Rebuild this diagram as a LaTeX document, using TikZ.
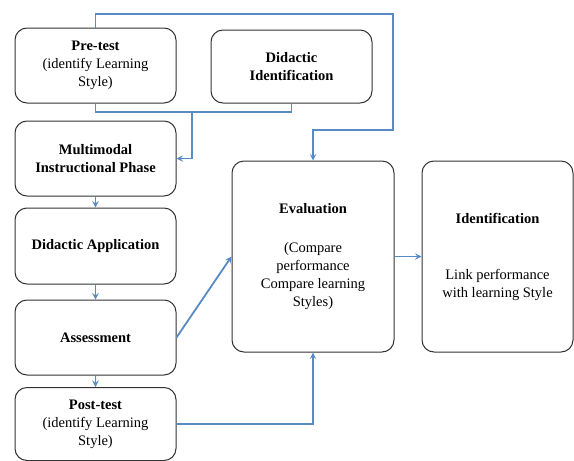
\documentclass[tikz,border=0pt]{standalone}
\usepackage{fontspec}
\setmainfont{Liberation Serif}
\usetikzlibrary{calc}

\definecolor{flowblue}{RGB}{88,138,196}

\begin{document}
\begin{tikzpicture}[x=1pt, y=-1pt, >=stealth,
    box/.style={draw=black!80, line width=1pt, rounded corners=12pt, align=center,
                font=\fontsize{14.5}{18}\selectfont, inner sep=2pt},
    flow/.style={draw=flowblue, line width=1.8pt}]
    \useasboundingbox (0,0) rectangle (574,461);

    % left column
    \node[box, minimum width=161pt, minimum height=75pt] (pre) at (95.5,65.5)
        {\textbf{Pre-test}\\(identify Learning\\Style)};
    \node[box, minimum width=161pt, minimum height=73pt] (did) at (291.5,66.5)
        {\textbf{Didactic}\\\textbf{Identification}};
    \node[box, minimum width=161pt, minimum height=75pt] (mm) at (95.5,158.5)
        {\textbf{Multimodal}\\\textbf{Instructional Phase}};
    \node[box, minimum width=161pt, minimum height=76pt] (app) at (95.5,246)
        {\textbf{Didactic Application}};
    \node[box, minimum width=161pt, minimum height=75pt] (ass) at (95.5,337.5)
        {\textbf{Assessment}};
    \node[box, minimum width=161pt, minimum height=73pt] (post) at (95.5,424)
        {\textbf{Post-test}\\(identify Learning\\Style)};

    % right side
    \node[box, minimum width=162pt, minimum height=191pt] (eval) at (313,256.5)
        {\textbf{Evaluation}\\[21pt](Compare\\performance\\Compare learning\\Styles)};
    \node[box, minimum width=151pt, minimum height=191pt] (ident) at (497.5,256.5)
        {\textbf{Identification}\\[38pt]Link performance\\with learning Style};

    \coordinate (top) at (393,14);
    \coordinate (turn) at (393,130);
    \coordinate (join) at (192,112);

    \draw[flow, ->] (pre.north) |- (top) -- (turn) -| (eval.north);
    \draw[flow] (pre.south) -- (pre.south |- join) -| (did.south);
    \draw[flow, ->] (join) |- (mm.east);
    \draw[flow, ->] (mm) -- (app);
    \draw[flow, ->] (app) -- (ass);
    \draw[flow, ->] (ass) -- (post);
    \draw[flow, ->] (ass.east) -- (eval.west);
    \draw[flow, ->] (post.east) -| (eval.south);
    \draw[flow, ->] (eval.east) -- (ident.west);
\end{tikzpicture}
\end{document}
